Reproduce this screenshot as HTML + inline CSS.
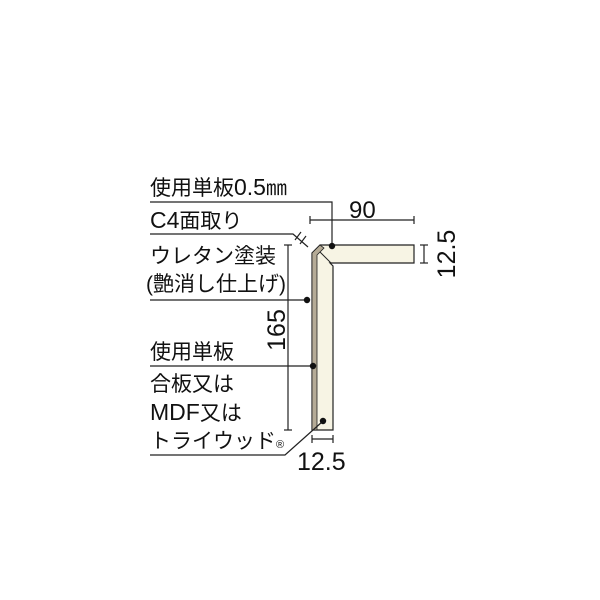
<!DOCTYPE html>
<html><head><meta charset="utf-8"><style>
html,body{margin:0;padding:0;background:#fff;width:600px;height:600px;overflow:hidden}
svg text{font-family:"Liberation Sans","Noto Sans CJK JP",sans-serif;fill:#111}
</style></head><body>
<svg width="600" height="600" viewBox="0 0 600 600" xmlns="http://www.w3.org/2000/svg">
<g fill="#f7f4e4" stroke="#222" stroke-width="1.2">
<polygon points="320,245 414,245 414,263 330,263 333,266 333,430 312,430 312,253"/>
</g>
<polygon points="312,253 320,245 324,248 317,255 317,430 312,430" fill="#b5ab96" stroke="#222" stroke-width="0.8"/>
<line x1="320" y1="252" x2="331" y2="263" stroke="#222" stroke-width="1"/>
<g stroke="#222" stroke-width="1.2" fill="none">
<polyline points="150,202 332,202 332,246"/>
<polyline points="150,234 293,234 308,247"/>
<line x1="295" y1="240" x2="301" y2="232"/><line x1="300" y1="244" x2="306" y2="236"/>
<line x1="150" y1="300" x2="307" y2="300"/>
<line x1="150" y1="366" x2="313" y2="366"/>
<polyline points="150,455 285,455 322,422"/>
<line x1="310" y1="220" x2="414" y2="220"/><line x1="310" y1="216" x2="310" y2="224"/><line x1="414" y1="216" x2="414" y2="224"/>
<line x1="424" y1="245" x2="424" y2="263"/><line x1="420" y1="245" x2="428" y2="245"/><line x1="420" y1="263" x2="428" y2="263"/>
<line x1="288" y1="245" x2="288" y2="430"/><line x1="284" y1="245" x2="292" y2="245"/><line x1="284" y1="430" x2="292" y2="430"/>
<line x1="312" y1="439" x2="333" y2="439"/><line x1="312" y1="435" x2="312" y2="443"/><line x1="333" y1="435" x2="333" y2="443"/>
</g>
<g fill="#111">
<circle cx="332" cy="246" r="3.2"/><circle cx="307" cy="300" r="3.2"/><circle cx="313" cy="366" r="3.2"/><circle cx="323" cy="421" r="3.2"/>
</g>
<g font-size="21">
<text x="150" y="195">使用単板<tspan font-size="23">0.5</tspan>㎜</text>
<text x="349" y="218" font-size="24">90</text>
<text x="150" y="228"><tspan font-size="23">C4</tspan>面取り</text>
<text x="150" y="263">ウレタン塗装</text>
<text x="146" y="291">(艶消し仕上げ)</text>
<text x="150" y="359">使用単板</text>
<text x="150" y="391">合板又は</text>
<text x="150" y="420"><tspan font-size="23">MDF</tspan>又は</text>
<text x="150" y="448">トライウッド<tspan font-size="11">®</tspan></text>
<text x="297" y="470" font-size="25">12.5</text>
<text transform="translate(455,254) rotate(-90)" text-anchor="middle" font-size="25">12.5</text>
<text transform="translate(285,330) rotate(-90)" text-anchor="middle" font-size="25">165</text>
</g>
</svg>
</body></html>
